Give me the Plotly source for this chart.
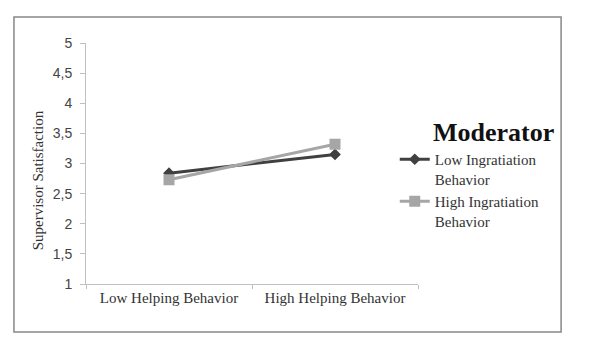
import plotly.graph_objects as go

categories = ["Low Helping Behavior", "High Helping Behavior"]
low_ingratiation = [2.84, 3.15]
high_ingratiation = [2.73, 3.32]
series_names = ["Low Ingratiation<br>Behavior", "High Ingratiation<br>Behavior"]
y_ticks = [1, 1.5, 2, 2.5, 3, 3.5, 4, 4.5, 5]

fig = go.Figure()
fig.add_trace(go.Scatter(
    x=categories, y=low_ingratiation, name=series_names[0], mode="lines+markers",
    line=dict(color="#404040", width=3),
    marker=dict(symbol="diamond", size=9, color="#404040"),
))
fig.add_trace(go.Scatter(
    x=categories, y=high_ingratiation, name=series_names[1], mode="lines+markers",
    line=dict(color="#a6a6a6", width=3),
    marker=dict(symbol="square", size=11, color="#a6a6a6"),
))

fig.update_layout(
    width=589, height=344,
    margin=dict(l=86, r=171, t=43, b=60),
    paper_bgcolor="white", plot_bgcolor="white",
    separators=", ",
    showlegend=True,
    legend=dict(
        x=0.93, y=0.585, xanchor="left", yanchor="top",
        font=dict(family="Liberation Serif", size=15, color="#333"),
        valign="top", tracegroupgap=0, itemwidth=30,
        bgcolor="rgba(0,0,0,0)",
    ),
    xaxis=dict(
        type="category", range=[-0.5, 1.5],
        showline=True, linecolor="#c0c0c0", linewidth=1,
        ticks="outside", tickson="boundaries", ticklen=4, tickcolor="#c0c0c0",
        showgrid=False, zeroline=False,
        tickfont=dict(family="Liberation Serif", size=15, color="#333"),
    ),
    yaxis=dict(
        range=[1, 5], tickvals=y_ticks,
        showline=True, linecolor="#c0c0c0", linewidth=1,
        ticks="outside", ticklen=5, tickcolor="#c0c0c0", ticklabelstandoff=5,
        showgrid=False, zeroline=False,
        tickfont=dict(family="Liberation Sans", size=14, color="#444"),
    ),
    shapes=[dict(type="rect", xref="paper", yref="paper",
                 x0=-0.217, x1=1.431, y0=-0.199, y1=1.108,
                 line=dict(color="#888", width=1.5))],
    annotations=[
        dict(text="<b>Moderator</b>", xref="paper", yref="paper",
             x=1.04, y=0.627, xanchor="left", yanchor="middle",
             showarrow=False,
             font=dict(family="Liberation Serif", size=26, color="#111")),
        dict(text="Supervisor Satisfaction", xref="paper", yref="paper",
             x=-0.1446, y=0.43, xanchor="center", yanchor="middle",
             textangle=-90, showarrow=False,
             font=dict(family="Liberation Serif", size=15, color="#333")),
    ],
)

fig.write_html("out.html")
